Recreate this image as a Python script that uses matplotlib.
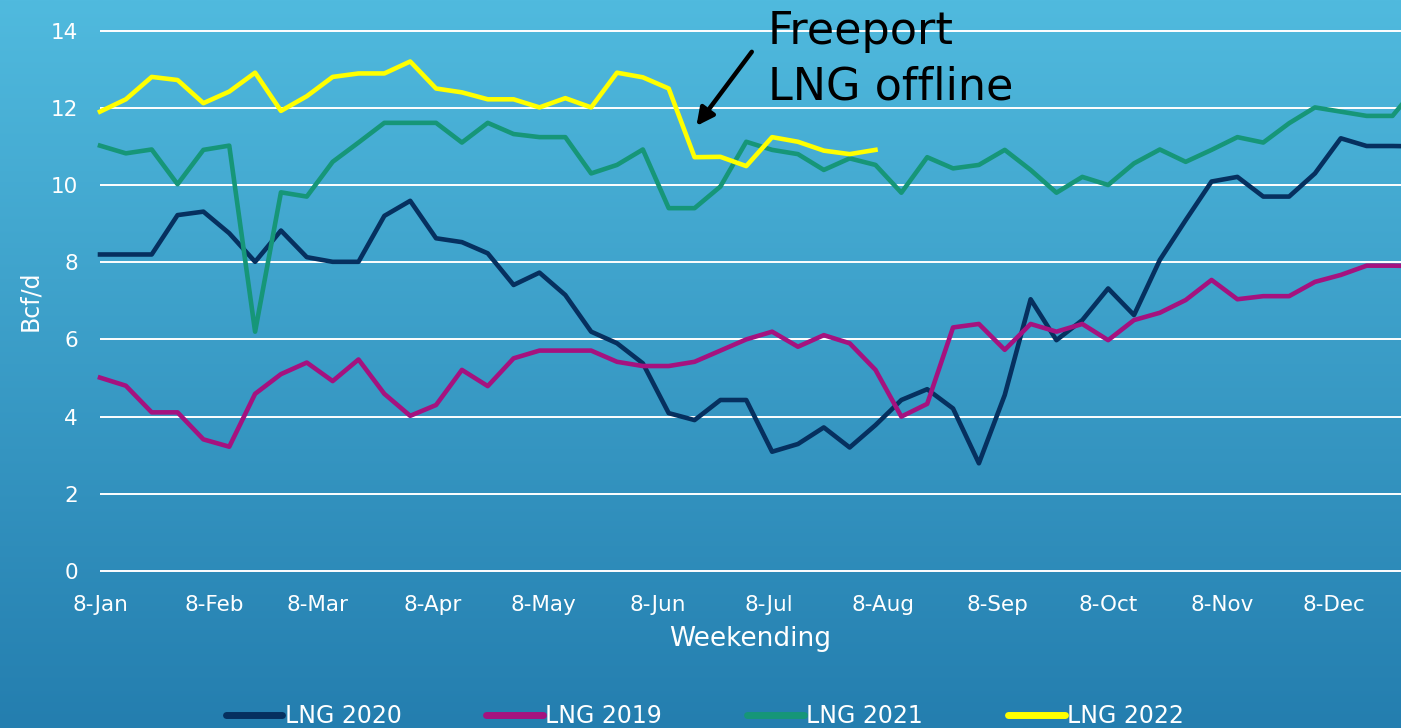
import numpy as np
import matplotlib
matplotlib.use("Agg")
import matplotlib.pyplot as plt

# weekly LNG feedgas, Bcf/d (week index 0 = 8-Jan)
lng_2020 = [8.2, 8.2, 8.2, 9.22, 9.31, 8.75, 8.01, 8.82, 8.13, 8.01, 8.01, 9.2, 9.59,
            8.62, 8.52, 8.23, 7.41, 7.73, 7.15, 6.2, 5.9, 5.38, 4.09, 3.91, 4.43, 4.43,
            3.09, 3.29, 3.72, 3.2, 3.78, 4.43, 4.71, 4.21, 2.79, 4.56, 7.04, 5.98, 6.5,
            7.32, 6.63, 8.06, 9.09, 10.09, 10.21, 9.7, 9.7, 10.3, 11.21, 11.01, 11.01, 11.0]
lng_2019 = [5.01, 4.8, 4.11, 4.11, 3.41, 3.22, 4.59, 5.1, 5.4, 4.92, 5.48, 4.59, 4.02,
            4.3, 5.21, 4.79, 5.51, 5.71, 5.71, 5.71, 5.42, 5.31, 5.31, 5.42, 5.71, 6.0,
            6.2, 5.81, 6.11, 5.9, 5.21, 4.0, 4.33, 6.31, 6.4, 5.73, 6.4, 6.2, 6.4, 5.98,
            6.5, 6.69, 7.02, 7.54, 7.04, 7.12, 7.12, 7.49, 7.67, 7.91, 7.91, 7.9]
lng_2021 = [11.02, 10.82, 10.92, 10.02, 10.91, 11.02, 6.2, 9.81, 9.7, 10.6, 11.1, 11.61,
            11.61, 11.61, 11.1, 11.61, 11.32, 11.24, 11.24, 10.3, 10.52, 10.92, 9.4, 9.4,
            9.96, 11.12, 10.91, 10.8, 10.39, 10.69, 10.52, 9.8, 10.72, 10.43, 10.52, 10.91,
            10.39, 9.8, 10.21, 10.0, 10.56, 10.92, 10.6, 10.91, 11.24, 11.1, 11.6, 12.01,
            11.9, 11.79, 11.79, 12.6]
lng_2022 = [11.9, 12.22, 12.8, 12.72, 12.12, 12.42, 12.91, 11.92, 12.3, 12.8, 12.89, 12.89,
            13.2, 12.5, 12.4, 12.22, 12.22, 12.01, 12.25, 12.01, 12.91, 12.79, 12.5, 10.72,
            10.73, 10.49, 11.24, 11.12, 10.89, 10.8, 10.91]

tick_days = [0, 31, 59, 90, 120, 151, 181, 212, 243, 273, 304, 334]
tick_labels = ["8-Jan", "8-Feb", "8-Mar", "8-Apr", "8-May", "8-Jun",
               "8-Jul", "8-Aug", "8-Sep", "8-Oct", "8-Nov", "8-Dec"]

fig = plt.figure(figsize=(14.01, 7.28), dpi=100)

# gradient background
bg = fig.add_axes([0, 0, 1, 1], zorder=-10)
top = np.array([80, 186, 222]) / 255
bot = np.array([36, 126, 175]) / 255
t = np.linspace(0, 1, 256)[:, None]
grad = top[None, :] * (1 - t) + bot[None, :] * t
bg.imshow(grad[:, None, :], aspect="auto", extent=[0, 1, 0, 1])
bg.axis("off")

W, H = 1401, 728
px_day = 25.85 / 7
y_lo, y_hi = -0.2, 14.2
px_unit = 38.6
ax_left = 100
ax_bot = 571 + (0 - y_lo) * px_unit
ax_top = 571 - y_hi * px_unit
ax = fig.add_axes([ax_left / W, 1 - ax_bot / H, (W - ax_left) / W, (ax_bot - ax_top) / H])
ax.patch.set_alpha(0)
ax.set_xlim(0, (W - ax_left) / px_day)
ax.set_ylim(y_lo, y_hi)

for s in ax.spines.values():
    s.set_visible(False)

ax.set_yticks(range(0, 15, 2))
ax.yaxis.grid(True, color="white", linewidth=1.4)
ax.set_axisbelow(True)
ax.set_xticks(tick_days)
ax.set_xticklabels(tick_labels)
ax.tick_params(length=0, colors="white", labelsize=15.5)
ax.tick_params(axis="y", pad=16)
ax.tick_params(axis="x", pad=12)

def days(vals):
    return [7 * i for i in range(len(vals))]

lw = 3.3
ax.plot(days(lng_2020), lng_2020, color="#06305f", lw=lw, label="LNG 2020", clip_on=False)
ax.plot(days(lng_2019), lng_2019, color="#a5127f", lw=lw, label="LNG 2019", clip_on=False)
ax.plot(days(lng_2021), lng_2021, color="#169678", lw=lw, label="LNG 2021", clip_on=False)
ax.plot(days(lng_2022), lng_2022, color="#ffff00", lw=lw, label="LNG 2022", clip_on=False)

ax.set_ylabel("Bcf/d", color="white", fontsize=17, labelpad=6)
ax.set_xlabel("Weekending", color="white", fontsize=19, labelpad=8)

# annotation for Freeport outage (baseline of last line)
fig.text(768 / W, 1 - 99 / H, "Freeport\nLNG offline", fontsize=32, color="black",
         ha="left", va="baseline", linespacing=1.34, multialignment="left")
ax.annotate("", xy=(161.5, 11.53), xytext=(176.5, 13.45),
            arrowprops=dict(arrowstyle="-|>", color="black", lw=3.2, mutation_scale=26,
                            shrinkA=0, shrinkB=0),
            annotation_clip=False)

leg = fig.legend(loc="center", bbox_to_anchor=(0.503, 0.016), ncol=4, frameon=False,
                 fontsize=17, handlelength=2.4, handletextpad=0.1, columnspacing=3.6,
                 labelcolor="white")
for h in leg.get_lines():
    h.set_linewidth(5)
    h.set_solid_capstyle("round")

fig.savefig("out.png", dpi=100)
